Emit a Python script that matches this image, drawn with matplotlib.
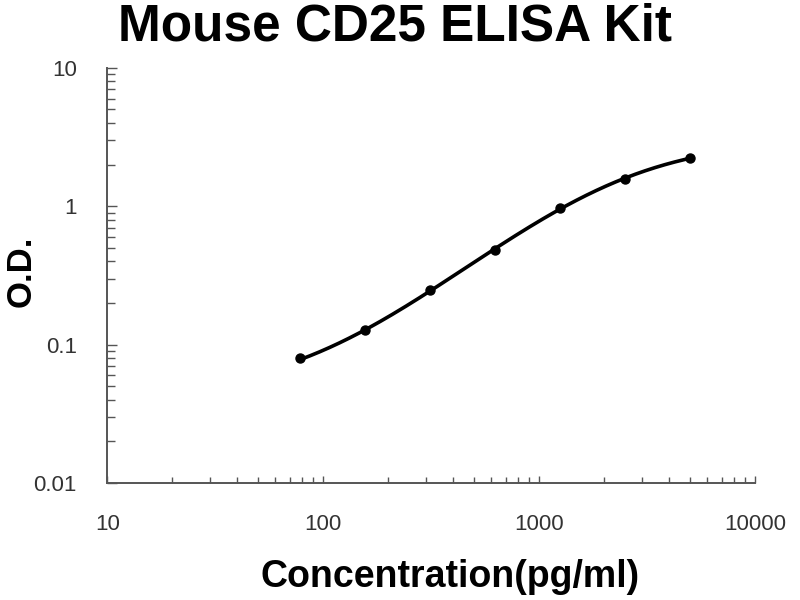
import numpy as np
import matplotlib
matplotlib.use("Agg")
import matplotlib.pyplot as plt
from matplotlib.ticker import LogLocator, FixedLocator, FixedFormatter, NullFormatter

# standard curve
conc = [78.125, 156.25, 312.5, 625, 1250, 2500, 5000]
od = [0.080, 0.127, 0.248, 0.485, 0.975, 1.56, 2.24]

x_ticks = [10, 100, 1000, 10000]
x_labels = ["10", "100", "1000", "10000"]
y_ticks = [0.01, 0.1, 1, 10]
y_labels = ["0.01", "0.1", "1", "10"]


def fit_4pl(x, y):
    # grid over slope and midpoint, min/max solved by least squares
    x = np.asarray(x)
    y = np.asarray(y)
    best = None
    for b in np.linspace(0.5, 2.5, 81):
        for c in np.logspace(2, 5, 121):
            g = 1.0 / (1.0 + (x / c) ** b)
            A = np.column_stack([g, 1 - g])
            (a, d), *_ = np.linalg.lstsq(A, y, rcond=None)
            pred = a * g + d * (1 - g)
            if np.any(pred <= 0):
                continue
            err = np.sum((np.log10(pred) - np.log10(y)) ** 2)
            if best is None or err < best[0]:
                best = (err, a, b, c, d)
    return best[1:]


plt.rcParams['font.family'] = ['Liberation Sans', 'DejaVu Sans']

fig = plt.figure(figsize=(8, 6), dpi=100)
ax = fig.add_axes([0.134, 0.195, 0.81, 0.692])

a, b, c, d = fit_4pl(conc, od)
xs = np.logspace(np.log10(conc[0]), np.log10(conc[-1]), 200)
ys = d + (a - d) / (1 + (xs / c) ** b)
ax.plot(xs, ys, color='black', lw=2.6, zorder=2)
ax.plot(conc, od, 'o', color='black', ms=6.5, zorder=3)

ax.set_xscale('log')
ax.set_yscale('log')
ax.set_xlim(10, 10000)
ax.set_ylim(0.01, 10)

ax.xaxis.set_major_locator(FixedLocator(x_ticks))
ax.xaxis.set_major_formatter(FixedFormatter(x_labels))
ax.yaxis.set_major_locator(FixedLocator(y_ticks))
ax.yaxis.set_major_formatter(FixedFormatter(y_labels))
ax.xaxis.set_minor_locator(LogLocator(base=10, subs=np.arange(2, 10)))
ax.yaxis.set_minor_locator(LogLocator(base=10, subs=np.arange(2, 10)))
ax.xaxis.set_minor_formatter(NullFormatter())
ax.yaxis.set_minor_formatter(NullFormatter())

for s in ['top', 'right']:
    ax.spines[s].set_visible(False)
for s in ['left', 'bottom']:
    ax.spines[s].set_color('#555555')
    ax.spines[s].set_linewidth(1.4)

ax.tick_params(axis='both', which='both', direction='in', color='#555555', width=1.0)
ax.tick_params(axis='y', which='major', length=7, pad=22, labelsize=16, labelcolor='#333333')
ax.tick_params(axis='y', which='minor', length=6)
ax.tick_params(axis='x', which='major', length=5, pad=22, labelsize=16, labelcolor='#333333')
ax.tick_params(axis='x', which='minor', length=4)

fig.text(0.5625, 0.022, 'Concentration(pg/ml)', fontsize=27, fontweight='bold',
         ha='center', va='baseline')
fig.text(0.027, 0.547, 'O.D.', fontsize=25, fontweight='bold', rotation=90,
         ha='center', va='center')
fig.text(0.494, 0.933, 'Mouse CD25 ELISA Kit', fontsize=37, fontweight='bold',
         ha='center', va='baseline')

fig.savefig('out.png', dpi=100)
